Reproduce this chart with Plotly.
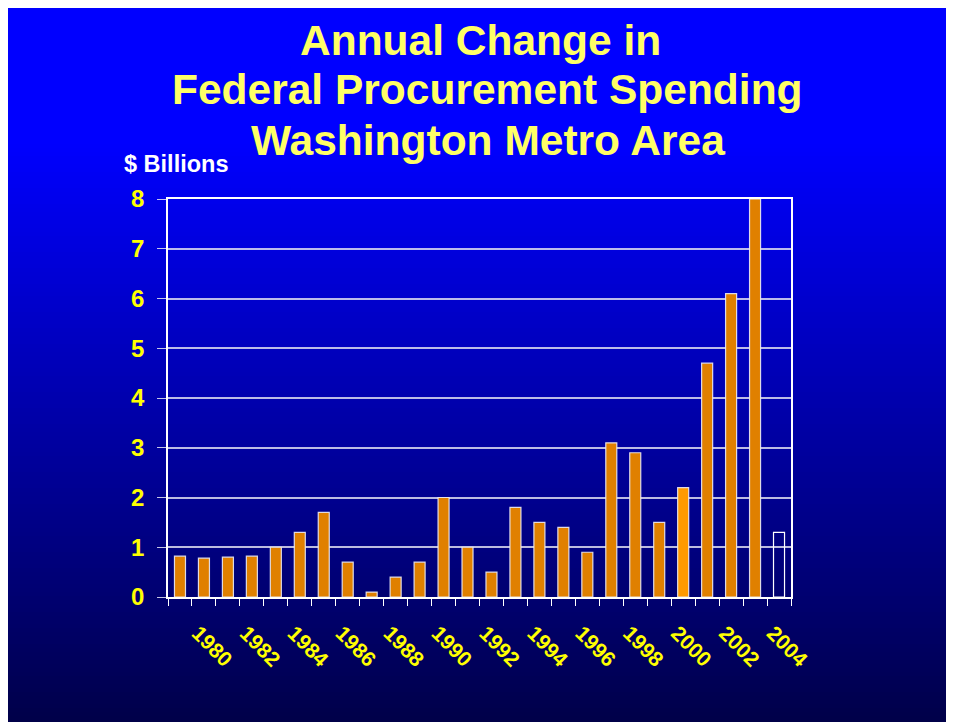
import plotly.graph_objects as go

# annual change in federal procurement spending, $ billions (2004 = estimate, hollow bar)
years = list(range(1979, 2005))
change = [0.82, 0.78, 0.8, 0.82, 1.0, 1.3, 1.7, 0.7, 0.1, 0.4, 0.7, 2.0, 1.0,
          0.5, 1.8, 1.5, 1.4, 0.9, 3.1, 2.9, 1.5, 2.2, 4.7, 6.1, 8.0, 1.3]
label_years = list(range(1980, 2005, 2))
y_ticks = list(range(0, 9))
title_lines = ["Annual Change in", "Federal Procurement Spending", "Washington Metro Area"]

W, H = 954, 714
ML, MR, MT, MB = 160, 171, 191, 125
pw, ph = W - ML - MR, H - MT - MB


def px_y(fy):
    # figure pixel (from top) -> paper y
    return (H - MB - fy) / ph


def px_x(fx):
    return (fx - ML) / pw


fills = []
outlines = []
for yr in years:
    if yr == 2004:
        fills.append("rgba(0,0,0,0)")
        outlines.append("white")
    elif yr == 2000:
        fills.append("#FF9A00")
        outlines.append("rgba(235,235,245,0.9)")
    else:
        fills.append("#E08000")
        outlines.append("rgba(235,235,245,0.9)")

fig = go.Figure()
fig.add_trace(go.Bar(x=years, y=change, width=0.46,
                     marker=dict(color=fills, line=dict(color=outlines, width=1.2)),
                     hoverinfo="x+y"))

# background gradient: bright blue at the top fading to navy at the bottom
shapes = []
step = 4
for py in range(0, H, step):
    t = max(0.0, (py - 130) / (H - 130))
    b = int(round(255 - t * (255 - 72)))
    shapes.append(dict(type="rect", xref="paper", yref="paper", layer="below",
                       x0=px_x(0), x1=px_x(W), y0=px_y(py + step), y1=px_y(py),
                       fillcolor="rgb(0,0,%d)" % b, line=dict(width=0)))

annotations = []
title_dx = [-7, 0, 0]
for i, line in enumerate(title_lines):
    annotations.append(dict(text=line, xref="paper", yref="paper",
                            x=px_x(480), y=px_y(32 + 50 * i), xshift=title_dx[i],
                            xanchor="center", yanchor="middle", showarrow=False,
                            font=dict(size=42.5, color="#FFFF66", weight="bold")))
annotations.append(dict(text="$ Billions", xref="paper", yref="paper",
                        x=px_x(114), y=px_y(156),
                        xanchor="left", yanchor="middle", showarrow=False,
                        font=dict(size=23.5, color="white", weight="bold")))

fig.update_layout(
    width=W, height=H,
    margin=dict(l=ML, r=MR, t=MT, b=MB),
    paper_bgcolor="#000080",
    plot_bgcolor="rgba(0,0,0,0)",
    shapes=shapes,
    annotations=annotations,
    showlegend=False,
    font=dict(family="Liberation Sans, Arial, sans-serif"),
)

fig.update_xaxes(range=[1978.5, 2004.5], tickvals=label_years,
                 ticktext=[str(y) for y in label_years], tickangle=45,
                 ticks="", showgrid=False, zeroline=False,
                 ticklabelstandoff=14, ticklabelshift=-6,
                 showline=True, linecolor="white", linewidth=1.5, mirror=True,
                 tickfont=dict(size=21, color="#FFFF00", weight="bold"),
                 minor=dict(tickvals=[y - 0.5 for y in years] + [2004.5],
                            ticks="outside", ticklen=7, tickcolor="white",
                            tickwidth=1, showgrid=False))
fig.update_yaxes(range=[0, 8], tickvals=y_ticks, ticks="outside", ticklen=9,
                 tickcolor="rgba(220,220,240,0.9)", showgrid=True,
                 gridcolor="rgba(220,220,240,0.85)", gridwidth=1.5, zeroline=False,
                 ticklabelstandoff=8,
                 showline=True, linecolor="white", linewidth=1.5, mirror=True,
                 tickfont=dict(size=24, color="#FFFF00", weight="bold"))

fig.write_html("out.html")
